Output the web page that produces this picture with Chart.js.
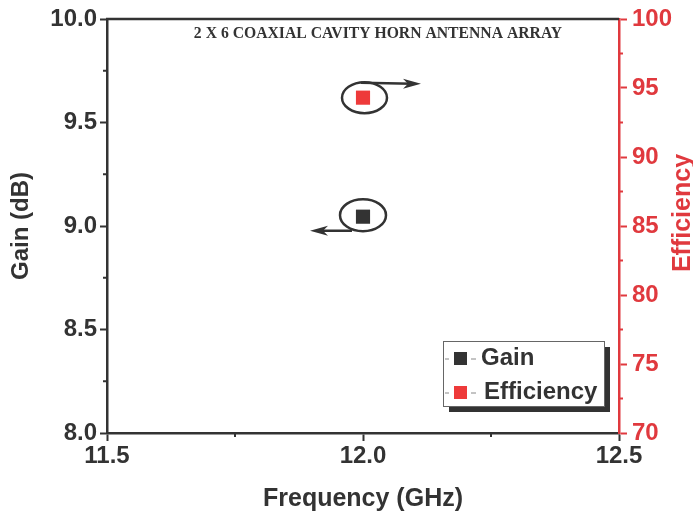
<!DOCTYPE html>
<html>
<head>
<meta charset="utf-8">
<script src="https://cdn.jsdelivr.net/npm/chart.js@4.4.1/dist/chart.umd.min.js"></script>
<style>
  html, body { margin: 0; padding: 0; background: #fff; }
  #wrap { width: 693px; height: 519px; }
</style>
</head>
<body>
<div id="wrap"><canvas id="chart" width="693" height="519"></canvas></div>
<script>
// data
const freq = [12.0];
const gain = [9.045];
const efficiency = [94.3];

const freqTicks = [11.5, 12.0, 12.5];
const gainTicks = [8.0, 8.5, 9.0, 9.5, 10.0];
const effTicks = [70, 75, 80, 85, 90, 95, 100];

const DARK = '#333333';
const RED = '#e0393e';
const TITLE = '2 X 6 COAXIAL CAVITY HORN ANTENNA ARRAY';

const isMajor = (list, v) => list.some(t => Math.abs(t - v) < 1e-6);

// minor ticks are drawn short, majors come from the grid
const minorTicks = {
    id: 'minorTicks',
    afterDraw(chart) {
        const ctx = chart.ctx;
        const a = chart.chartArea;
        ctx.save();
        ctx.lineWidth = 2;
        const xs = chart.scales.x, ys = chart.scales.y, yr = chart.scales.y1;
        ctx.strokeStyle = DARK;
        xs.ticks.forEach(t => {
            if (isMajor(freqTicks, t.value)) return;
            const px = xs.getPixelForValue(t.value);
            ctx.beginPath(); ctx.moveTo(px, a.bottom); ctx.lineTo(px, a.bottom + 4); ctx.stroke();
        });
        ys.ticks.forEach(t => {
            if (isMajor(gainTicks, t.value)) return;
            const py = ys.getPixelForValue(t.value);
            ctx.beginPath(); ctx.moveTo(a.left, py); ctx.lineTo(a.left - 4, py); ctx.stroke();
        });
        ctx.strokeStyle = RED;
        yr.ticks.forEach(t => {
            if (isMajor(effTicks, t.value)) return;
            const py = yr.getPixelForValue(t.value);
            ctx.beginPath(); ctx.moveTo(a.right, py); ctx.lineTo(a.right + 4, py); ctx.stroke();
        });
        // top frame line
        ctx.strokeStyle = DARK;
        ctx.lineWidth = 2.5;
        ctx.beginPath(); ctx.moveTo(a.left - 1, a.top); ctx.lineTo(a.right, a.top); ctx.stroke();
        ctx.restore();
    }
};

function arrowHead(ctx, x, y, dir) {
    ctx.beginPath();
    ctx.moveTo(x, y);
    ctx.lineTo(x - dir * 18, y - 5);
    ctx.lineTo(x - dir * 13, y);
    ctx.lineTo(x - dir * 18, y + 5);
    ctx.closePath();
    ctx.fill();
}

// circled points with arrows pointing to their axis
const markers = {
    id: 'markers',
    afterDatasetsDraw(chart) {
        const ctx = chart.ctx;
        ctx.save();
        ctx.strokeStyle = DARK;
        ctx.fillStyle = DARK;
        ctx.lineWidth = 2.5;

        const g = chart.getDatasetMeta(0).data[0];
        ctx.beginPath();
        ctx.ellipse(g.x, g.y - 1.5, 23, 16, 0, 0, Math.PI * 2);
        ctx.stroke();
        ctx.beginPath();
        ctx.moveTo(g.x - 11, g.y + 14);
        ctx.lineTo(g.x - 45, g.y + 14);
        ctx.stroke();
        arrowHead(ctx, g.x - 53, g.y + 14, -1);

        const e = chart.getDatasetMeta(1).data[0];
        ctx.beginPath();
        ctx.ellipse(e.x + 1.5, e.y, 22.5, 15.5, 0, 0, Math.PI * 2);
        ctx.stroke();
        ctx.beginPath();
        ctx.moveTo(e.x - 2, e.y - 15);
        ctx.lineTo(e.x + 50, e.y - 14);
        ctx.stroke();
        arrowHead(ctx, e.x + 58, e.y - 14, 1);
        ctx.restore();
    }
};

// title, right axis caption and boxed legend
const decorations = {
    id: 'decorations',
    afterDraw(chart) {
        const ctx = chart.ctx;
        ctx.save();
        ctx.fillStyle = DARK;
        ctx.font = 'bold 15.7px "Liberation Serif", "Times New Roman", serif';
        ctx.textAlign = 'center';
        ctx.textBaseline = 'middle';
        ctx.fillText(TITLE, 378, 34);

        ctx.translate(683, 213);
        ctx.rotate(-Math.PI / 2);
        ctx.fillStyle = RED;
        ctx.font = 'bold 25px "Liberation Sans", Arial, sans-serif';
        ctx.fillText('Efficiency', 0, 0);
        ctx.restore();

        // legend
        const bx = 443, by = 341, bw = 161, bh = 65;
        ctx.save();
        ctx.fillStyle = DARK;
        ctx.fillRect(bx + 6, by + 6, bw, bh);
        ctx.fillStyle = '#fff';
        ctx.fillRect(bx, by, bw, bh);
        ctx.strokeStyle = '#666';
        ctx.lineWidth = 1;
        ctx.strokeRect(bx + 0.5, by + 0.5, bw, bh);

        ctx.font = 'bold 24px "Liberation Sans", Arial, sans-serif';
        ctx.textAlign = 'left';
        ctx.textBaseline = 'middle';
        const rows = [
            { label: chart.data.datasets[0].label, color: chart.data.datasets[0].backgroundColor, y: 358, tx: 481 },
            { label: chart.data.datasets[1].label, color: chart.data.datasets[1].backgroundColor, y: 392, tx: 484 }
        ];
        rows.forEach(r => {
            ctx.strokeStyle = '#888';
            ctx.lineWidth = 1;
            ctx.beginPath();
            ctx.moveTo(445, r.y + 1); ctx.lineTo(449, r.y + 1);
            ctx.moveTo(471, r.y + 1); ctx.lineTo(476, r.y + 1);
            ctx.stroke();
            ctx.fillStyle = r.color;
            ctx.fillRect(454, r.y - 6, 13, 13);
            ctx.fillStyle = DARK;
            ctx.fillText(r.label, r.tx, r.y);
        });
        ctx.restore();
    }
};

const tickFont = { family: '"Liberation Sans", Arial, sans-serif', size: 24, weight: 'bold', lineHeight: 1 };
const titleFont = { family: '"Liberation Sans", Arial, sans-serif', size: 24, weight: 'bold', lineHeight: 1 };

new Chart(document.getElementById('chart'), {
    type: 'scatter',
    data: {
        datasets: [
            {
                label: 'Gain',
                data: freq.map((f, i) => ({ x: f, y: gain[i] })),
                yAxisID: 'y',
                backgroundColor: DARK,
                borderColor: DARK,
                pointStyle: 'rect',
                pointRadius: 10,
                borderWidth: 0
            },
            {
                label: 'Efficiency',
                data: freq.map((f, i) => ({ x: f, y: efficiency[i] })),
                yAxisID: 'y1',
                backgroundColor: '#ee3a3a',
                borderColor: '#ee3a3a',
                pointStyle: 'rect',
                pointRadius: 10,
                borderWidth: 0
            }
        ]
    },
    options: {
        responsive: false,
        animation: false,
        layout: { padding: { top: 19, left: 0, right: 0, bottom: 0 } },
        plugins: { legend: { display: false }, tooltip: { enabled: false } },
        scales: {
            x: {
                type: 'linear',
                position: 'bottom',
                min: 11.5, max: 12.5,
                afterFit: s => { s.height = 86; },
                border: { color: DARK, width: 2.5 },
                grid: {
                    drawOnChartArea: false,
                    tickLength: 8,
                    tickWidth: 2,
                    tickColor: c => isMajor(freqTicks, c.tick.value) ? DARK : 'rgba(0,0,0,0)'
                },
                ticks: {
                    stepSize: 0.25,
                    autoSkip: false,
                    maxRotation: 0,
                    color: DARK,
                    font: tickFont,
                    padding: 3,
                    callback: v => isMajor(freqTicks, v) ? v.toFixed(1) : ''
                },
                title: { display: true, text: 'Frequency (GHz)', color: DARK, font: { ...titleFont, size: 25 }, padding: { top: 0, bottom: 7 } }
            },
            y: {
                position: 'left',
                min: 8, max: 10,
                afterFit: s => { s.width = 107; },
                border: { color: DARK, width: 2.5 },
                grid: {
                    drawOnChartArea: false,
                    tickLength: 7,
                    tickWidth: 2,
                    tickColor: c => isMajor(gainTicks, c.tick.value) ? DARK : 'rgba(0,0,0,0)'
                },
                ticks: {
                    stepSize: 0.25,
                    autoSkip: false,
                    color: DARK,
                    font: tickFont,
                    padding: 3,
                    callback: v => isMajor(gainTicks, v) ? v.toFixed(1) : ''
                },
                title: { display: true, text: 'Gain (dB)', color: DARK, font: titleFont, padding: { top: 9, bottom: 0 } }
            },
            y1: {
                position: 'right',
                min: 70, max: 100,
                afterFit: s => { s.width = 74; },
                border: { color: RED, width: 2.5 },
                grid: {
                    drawOnChartArea: false,
                    tickLength: 8,
                    tickWidth: 2,
                    tickColor: c => isMajor(effTicks, c.tick.value) ? RED : 'rgba(0,0,0,0)'
                },
                ticks: {
                    stepSize: 2.5,
                    autoSkip: false,
                    color: RED,
                    font: tickFont,
                    padding: 5,
                    callback: v => isMajor(effTicks, v) ? String(v) : ''
                }
            }
        }
    },
    plugins: [minorTicks, markers, decorations]
});
</script>
</body>
</html>
